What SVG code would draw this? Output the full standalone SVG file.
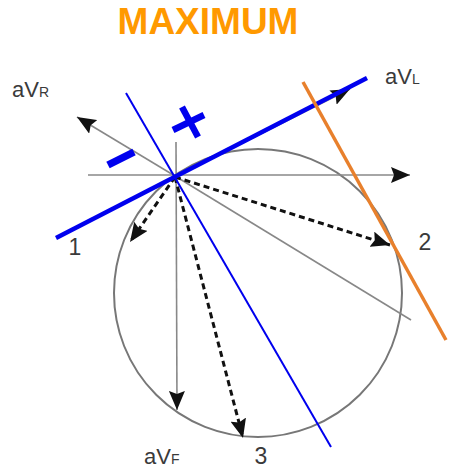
<svg xmlns="http://www.w3.org/2000/svg" width="456" height="469" viewBox="0 0 456 469">
<style>
.axis{stroke:#888;stroke-width:1.6;fill:none}
.dash{stroke:#111;stroke-width:3;stroke-dasharray:6 4;fill:none}
.lbl{font-family:"Liberation Sans",Arial,sans-serif;fill:#3a3a3a}
.blue{stroke:#0000ee;fill:none}
</style>
<defs>
<marker id="ah" markerUnits="userSpaceOnUse" markerWidth="20" markerHeight="16" refX="19" refY="8" orient="auto">
<path d="M0,0 L19,8 L0,16 L3,8 z" fill="#111"/>
</marker>
</defs>
<rect width="456" height="469" fill="#fff"/>
<g id="title"><text x="208" y="34" text-anchor="middle" font-family="Liberation Sans,Arial,sans-serif" font-weight="bold" font-size="37" fill="#ff9900">MAXIMUM</text></g>
<g id="circle"><circle cx="258" cy="293" r="144" fill="none" stroke="#777" stroke-width="2"/></g>
<g id="connectors">
<line class="axis" x1="88" y1="175" x2="410" y2="175" marker-end="url(#ah)"/>
<line class="axis" x1="176" y1="142" x2="177" y2="410" marker-end="url(#ah)"/>
<line class="axis" x1="175" y1="176" x2="77" y2="117" marker-end="url(#ah)"/>
<line class="axis" x1="175" y1="177" x2="350" y2="89" marker-end="url(#ah)"/>
<line class="axis" x1="175" y1="176" x2="411" y2="320"/>
<line class="dash" x1="175" y1="177" x2="130" y2="242" marker-end="url(#ah)"/>
<line class="dash" x1="175" y1="177" x2="390" y2="245" marker-end="url(#ah)"/>
<line class="dash" x1="175" y1="177" x2="243" y2="438" marker-end="url(#ah)"/>
<line class="blue" x1="56" y1="238" x2="367" y2="78" stroke-width="4.5"/>
<line class="blue" x1="126" y1="93" x2="331" y2="447" stroke-width="2"/>
<line x1="303" y1="82" x2="446" y2="340" stroke="#e8802c" stroke-width="3.5"/>
</g>
<g id="signs" stroke="#0000ee" stroke-width="6.5">
<line x1="173" y1="130" x2="204" y2="115"/>
<line x1="182" y1="107" x2="198" y2="137"/>
<line x1="108" y1="165" x2="134" y2="152" stroke-width="7.5"/>
</g>
<g id="label-aVR"><text class="lbl" x="12" y="97" font-size="22">aV<tspan font-size="14">R</tspan></text></g>
<g id="label-aVL"><text class="lbl" x="385" y="84" font-size="22">aV<tspan font-size="14">L</tspan></text></g>
<g id="label-aVF"><text class="lbl" x="144" y="464" font-size="22">aV<tspan font-size="14">F</tspan></text></g>
<g id="label-1"><text class="lbl" x="75" y="255" font-size="23" text-anchor="middle">1</text></g>
<g id="label-2"><text class="lbl" x="425" y="250" font-size="23" text-anchor="middle">2</text></g>
<g id="label-3"><text class="lbl" x="261" y="464" font-size="23" text-anchor="middle">3</text></g>
</svg>
